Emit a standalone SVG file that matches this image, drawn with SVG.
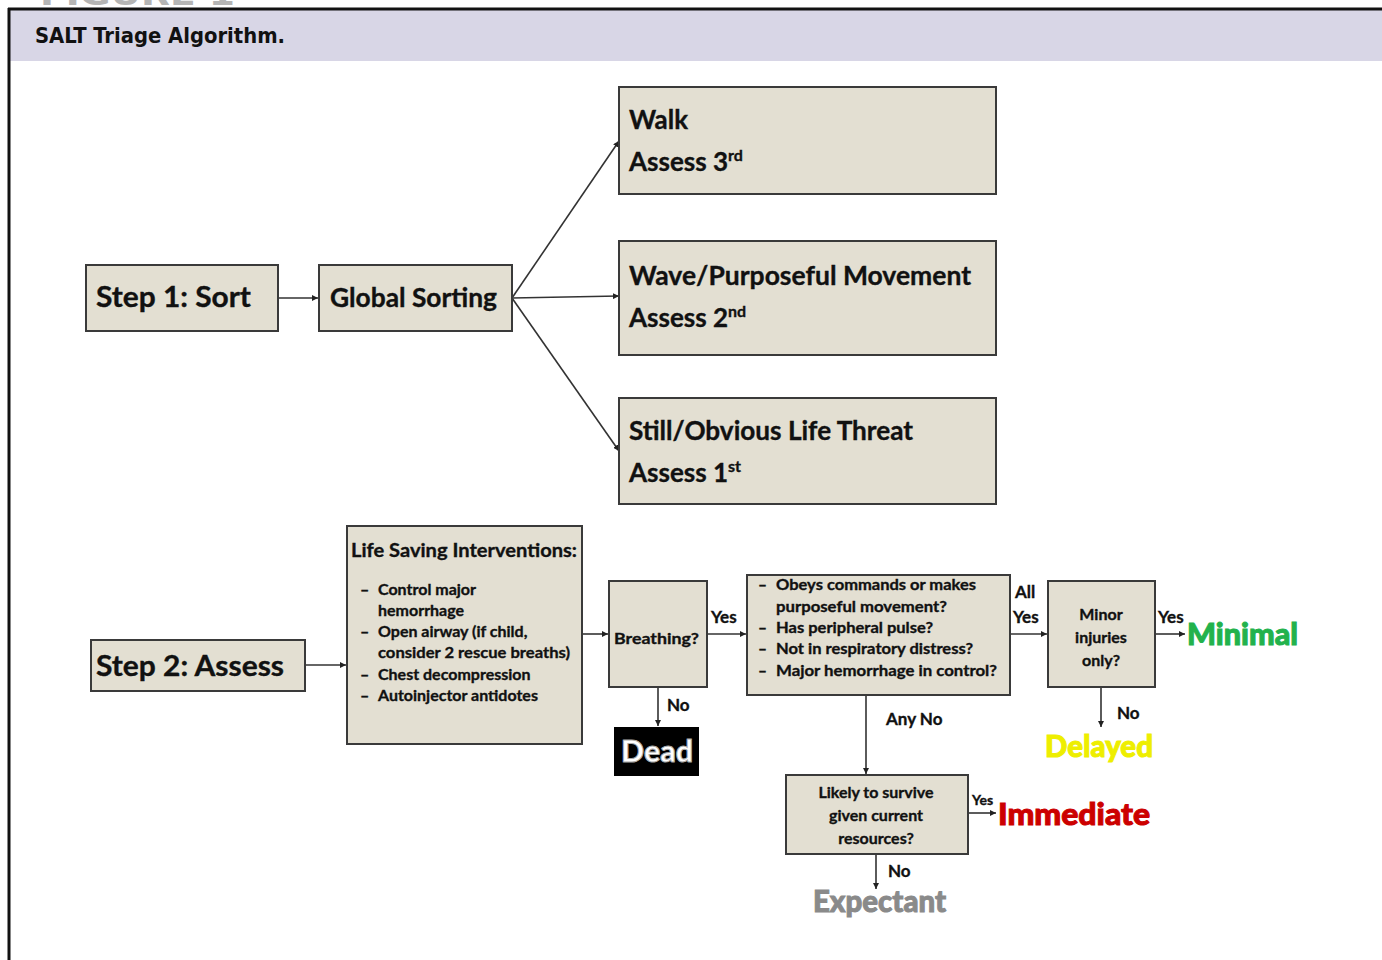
<svg xmlns="http://www.w3.org/2000/svg" width="1382" height="960" viewBox="0 0 1382 960">
<defs>
<marker id="ah" viewBox="0 0 10 10" refX="10" refY="5" markerWidth="6" markerHeight="6" orient="auto" markerUnits="userSpaceOnUse">
<path d="M0,0 L10,5 L0,10 z" fill="#222"/>
</marker>
<style>
.box{fill:#e3dfd2;stroke:#3a3a3a;stroke-width:2}
.t{font-family:Lato,"Open Sans","Liberation Sans",sans-serif;font-weight:bold;fill:#111;stroke:#111;stroke-width:0.35}
.big{font-size:28px}
.mid{font-size:26px}
.sm{font-size:16px}
.lbl{font-size:17px}
.c{text-anchor:middle}
.con{stroke:#333;stroke-width:1.6;fill:none;marker-end:url(#ah)}
.out{font-family:Lato,"Open Sans","Liberation Sans",sans-serif;font-weight:900;font-size:31px;stroke-width:1}
</style>
</defs>
<rect x="0" y="0" width="1382" height="960" fill="#fff"/>
<text x="40" y="5" font-family="'DejaVu Sans Condensed','Liberation Sans',sans-serif" font-weight="bold" font-size="30" fill="#b5b5b5" textLength="195" lengthAdjust="spacingAndGlyphs">FIGURE 1</text>
<rect x="10" y="10" width="1372" height="51" fill="#d8d6e6"/>
<line x1="8" y1="9" x2="1382" y2="9" stroke="#111" stroke-width="3"/>
<line x1="9" y1="8" x2="9" y2="960" stroke="#111" stroke-width="3"/>
<text x="35" y="43" font-family="'DejaVu Sans Condensed','Liberation Sans',sans-serif" font-weight="bold" font-size="22" fill="#111" textLength="250" lengthAdjust="spacingAndGlyphs">SALT Triage Algorithm.</text>

<g id="connectors">
<line class="con" x1="278" y1="298" x2="318" y2="298"/>
<line class="con" x1="512" y1="298" x2="619" y2="141"/>
<line class="con" x1="512" y1="298" x2="619" y2="296"/>
<line class="con" x1="512" y1="298" x2="619" y2="451"/>
<line class="con" x1="305" y1="665" x2="346" y2="665"/>
<line class="con" x1="582" y1="634" x2="608" y2="634"/>
<line class="con" x1="707" y1="634" x2="746" y2="634"/>
<line class="con" x1="658" y1="687" x2="658" y2="726"/>
<line class="con" x1="1010" y1="634" x2="1047" y2="634"/>
<line class="con" x1="866" y1="695" x2="866" y2="774"/>
<line class="con" x1="1155" y1="634" x2="1185" y2="634"/>
<line class="con" x1="1101" y1="687" x2="1101" y2="727"/>
<line class="con" x1="968" y1="813" x2="996" y2="813"/>
<line class="con" x1="876" y1="854" x2="876" y2="889"/>
<text class="t lbl" x="711" y="623">Yes</text>
<text class="t lbl" x="667" y="711">No</text>
<text class="t lbl" x="1015" y="598">All</text>
<text class="t lbl" x="1013" y="623">Yes</text>
<text class="t lbl" x="886" y="725">Any No</text>
<text class="t lbl" x="1158" y="623">Yes</text>
<text class="t lbl" x="1117" y="719">No</text>
<text class="t" x="972" y="805" font-size="14">Yes</text>
<text class="t lbl" x="888" y="877">No</text>
</g>

<g id="step1">
<rect class="box" x="86" y="265" width="192" height="66"/>
<text class="t big" x="96" y="307" textLength="155" lengthAdjust="spacingAndGlyphs">Step 1: Sort</text>
</g>
<g id="global">
<rect class="box" x="319" y="265" width="193" height="66"/>
<text class="t mid" x="330" y="307" textLength="167" lengthAdjust="spacingAndGlyphs">Global Sorting</text>
</g>
<g id="walk">
<rect class="box" x="619" y="87" width="377" height="107"/>
<text class="t mid" x="629" y="129" textLength="59" lengthAdjust="spacingAndGlyphs">Walk</text>
<text class="t mid" x="629" y="171">Assess 3<tspan font-size="16" dy="-10">rd</tspan></text>
</g>
<g id="wave">
<rect class="box" x="619" y="241" width="377" height="114"/>
<text class="t mid" x="629" y="285" textLength="342" lengthAdjust="spacingAndGlyphs">Wave/Purposeful Movement</text>
<text class="t mid" x="629" y="327">Assess 2<tspan font-size="16" dy="-10">nd</tspan></text>
</g>
<g id="still">
<rect class="box" x="619" y="398" width="377" height="106"/>
<text class="t mid" x="629" y="440" textLength="284" lengthAdjust="spacingAndGlyphs">Still/Obvious Life Threat</text>
<text class="t mid" x="629" y="482">Assess 1<tspan font-size="16" dy="-10">st</tspan></text>
</g>

<g id="step2">
<rect class="box" x="91" y="640" width="214" height="51"/>
<text class="t big" x="96" y="676" textLength="188" lengthAdjust="spacingAndGlyphs">Step 2: Assess</text>
</g>
<g id="lsi">
<rect class="box" x="347" y="526" width="235" height="218"/>
<text class="t" x="351" y="557" font-size="19" textLength="226" lengthAdjust="spacingAndGlyphs">Life Saving Interventions:</text>
<g class="t sm">
<text x="360" y="595">–</text><text x="378" y="595">Control major</text>
<text x="378" y="616">hemorrhage</text>
<text x="360" y="637">–</text><text x="378" y="637">Open airway (if child,</text>
<text x="378" y="658" textLength="192" lengthAdjust="spacingAndGlyphs">consider 2 rescue breaths)</text>
<text x="360" y="680">–</text><text x="378" y="680">Chest decompression</text>
<text x="360" y="701">–</text><text x="378" y="701">Autoinjector antidotes</text>
</g>
</g>
<g id="breathing">
<rect class="box" x="609" y="581" width="98" height="106"/>
<text class="t sm" x="614" y="644" textLength="85" lengthAdjust="spacingAndGlyphs">Breathing?</text>
</g>
<g id="dead">
<rect x="614" y="727" width="85" height="49" fill="#000"/>
<text class="out" x="657" y="762" fill="#fff" text-anchor="middle" textLength="72" lengthAdjust="spacingAndGlyphs" stroke="#aaa" stroke-width="0.8">Dead</text>
</g>
<g id="criteria">
<rect class="box" x="747" y="575" width="263" height="120"/>
<g class="t" font-size="15.5">
<text x="758" y="590">–</text><text x="776" y="590" textLength="200" lengthAdjust="spacingAndGlyphs">Obeys commands or makes</text>
<text x="776" y="612" textLength="171" lengthAdjust="spacingAndGlyphs">purposeful movement?</text>
<text x="758" y="633">–</text><text x="776" y="633" textLength="157" lengthAdjust="spacingAndGlyphs">Has peripheral pulse?</text>
<text x="758" y="654">–</text><text x="776" y="654" textLength="197" lengthAdjust="spacingAndGlyphs">Not in respiratory distress?</text>
<text x="758" y="676">–</text><text x="776" y="676" textLength="221" lengthAdjust="spacingAndGlyphs">Major hemorrhage in control?</text>
</g>
</g>
<g id="minor">
<rect class="box" x="1048" y="581" width="107" height="106"/>
<text class="t sm c" x="1101" y="620">Minor</text>
<text class="t sm c" x="1101" y="643">injuries</text>
<text class="t sm c" x="1101" y="666">only?</text>
</g>
<g id="likely">
<rect class="box" x="786" y="775" width="182" height="79"/>
<text class="t sm c" x="876" y="798">Likely to survive</text>
<text class="t sm c" x="876" y="821">given current</text>
<text class="t sm c" x="876" y="844">resources?</text>
</g>
<g id="minimal">
<text class="out" x="1187" y="645" fill="#22b24c" stroke="#22b24c" textLength="111" lengthAdjust="spacingAndGlyphs">Minimal</text>
</g>
<g id="delayed">
<text class="out" x="1045" y="757" fill="#eeee00" stroke="#eeee00" textLength="108" lengthAdjust="spacingAndGlyphs">Delayed</text>
</g>
<g id="immediate">
<text class="out" x="998" y="825" fill="#cc0000" stroke="#cc0000" textLength="152" lengthAdjust="spacingAndGlyphs">Immediate</text>
</g>
<g id="expectant">
<text class="out" x="813" y="912" fill="#8a8a8a" stroke="#8a8a8a" textLength="133" lengthAdjust="spacingAndGlyphs">Expectant</text>
</g>
</svg>
